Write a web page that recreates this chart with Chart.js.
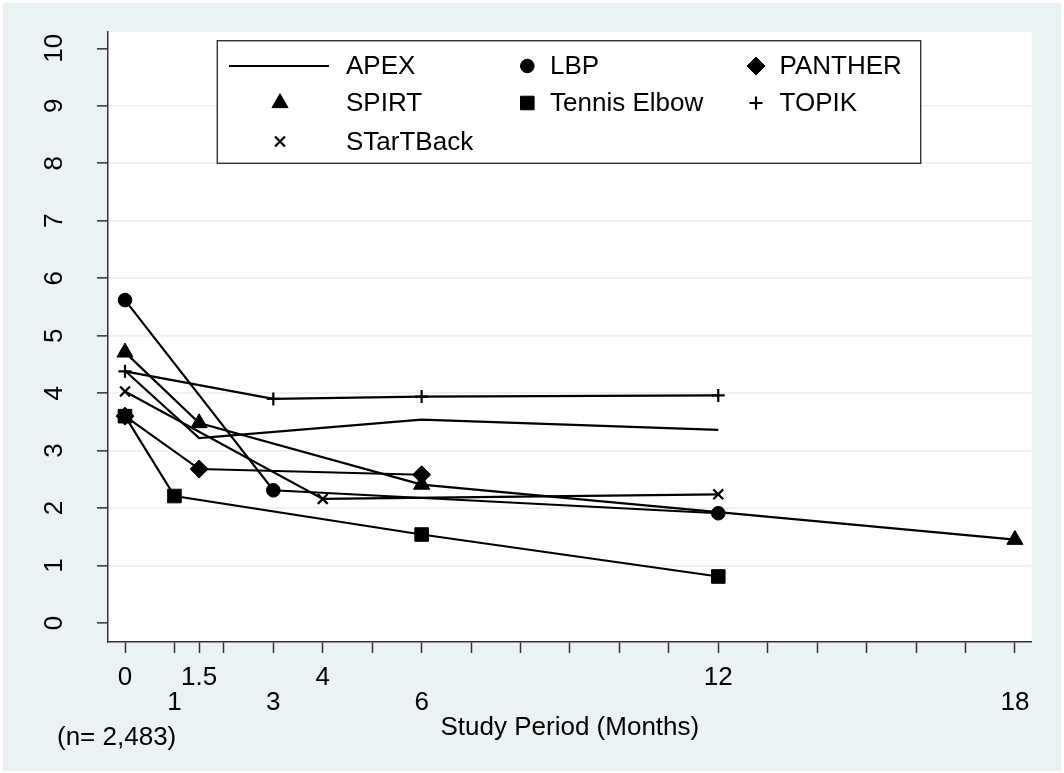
<!DOCTYPE html>
<html>
<head>
<meta charset="utf-8">
<script src="https://cdn.jsdelivr.net/npm/chart.js@4/dist/chart.umd.min.js"></script>
<style>
  html, body { margin: 0; padding: 0; background: #fff; }
  #wrap { position: absolute; left: 3px; top: 3px; width: 1058px; height: 768px; background: #eaf2f3; }
</style>
</head>
<body>
<div id="wrap"><canvas id="chart" width="1058" height="768"></canvas></div>
<script>
// study names, in legend order
const studies = ['APEX', 'LBP', 'PANTHER', 'SPIRT', 'Tennis Elbow', 'TOPIK', 'STarTBack'];

// follow-up months and mean scores per study
const apexMonths = [0, 1.5, 6, 12];
const apexScores = [4.39, 3.22, 3.54, 3.36];
const lbpMonths = [0, 3, 12];
const lbpScores = [5.62, 2.31, 1.91];
const pantherMonths = [0, 1.5, 6];
const pantherScores = [3.6, 2.68, 2.58];
const spirtMonths = [0, 1.5, 6, 18];
const spirtScores = [4.71, 3.48, 2.41, 1.45];
const tennisMonths = [0, 1, 6, 12];
const tennisScores = [3.6, 2.21, 1.54, 0.81];
const topikMonths = [0, 3, 6, 12];
const topikScores = [4.38, 3.9, 3.94, 3.96];
const startbackMonths = [0, 4, 12];
const startbackScores = [4.03, 2.16, 2.24];

// axis ticks
const xTicks = [0, 1, 1.5, 2, 3, 4, 5, 6, 7, 8, 9, 10, 11, 12, 13, 14, 15, 16, 17, 18];
const xTopRow = [0, 1.5, 4, 12];
const xBottomRow = [1, 3, 6, 18];
const yTicks = [0, 1, 2, 3, 4, 5, 6, 7, 8, 9, 10];

const FONT = 'Liberation Sans, Arial, Helvetica, sans-serif';
const INK = '#000';
const AXIS = '#333';
const GRID = '#eaf2f3';

function toPoints(months, scores) {
    return months.map((m, i) => ({ x: m, y: scores[i] }));
}

const series = [
    { months: apexMonths, scores: apexScores, style: false, radius: 0 },
    { months: lbpMonths, scores: lbpScores, style: 'circle', radius: 6.8 },
    { months: pantherMonths, scores: pantherScores, style: 'rectRot', radius: 9 },
    { months: spirtMonths, scores: spirtScores, style: 'triangle', radius: 9.3 },
    { months: tennisMonths, scores: tennisScores, style: 'rect', radius: 9.6 },
    { months: topikMonths, scores: topikScores, style: 'cross', radius: 6.5 },
    { months: startbackMonths, scores: startbackScores, style: 'crossRot', radius: 7 }
];

const datasets = series.map((s, i) => ({
    label: studies[i],
    data: toPoints(s.months, s.scores),
    borderColor: INK,
    backgroundColor: INK,
    borderWidth: 2.2,
    tension: 0,
    pointStyle: s.style || 'circle',
    pointRadius: s.radius,
    pointHoverRadius: s.radius,
    pointBackgroundColor: INK,
    pointBorderColor: INK,
    pointBorderWidth: (s.style === 'cross' || s.style === 'crossRot') ? 2.2 : 1
}));

// white plot region behind the grid
const plotBackground = {
    id: 'plotBackground',
    beforeDraw(chart) {
        const { ctx, chartArea: a } = chart;
        ctx.save();
        ctx.fillStyle = '#fff';
        ctx.fillRect(a.left, a.top, a.right - a.left, a.bottom - a.top);
        ctx.restore();
    }
};

// boxed legend inside the plot, plus the sample size note
const legendBox = {
    id: 'legendBox',
    afterDraw(chart) {
        const ctx = chart.ctx;
        const box = { left: 214.3, top: 37.7, right: 917.7, bottom: 160.3 };
        const colSymbolX = [277, 524.3, 753];
        const colTextX = [343, 547, 776.5];
        const rowY = [63, 100, 138.5];

        ctx.save();
        ctx.fillStyle = '#fff';
        ctx.fillRect(box.left, box.top, box.right - box.left, box.bottom - box.top);
        ctx.strokeStyle = AXIS;
        ctx.lineWidth = 1.4;
        ctx.strokeRect(box.left, box.top, box.right - box.left, box.bottom - box.top);

        ctx.font = '26px ' + FONT;
        ctx.textBaseline = 'middle';
        ctx.textAlign = 'left';

        chart.data.datasets.forEach((ds, i) => {
            const col = i % 3;
            const row = Math.floor(i / 3);
            const x = colSymbolX[col];
            const y = rowY[row];
            ctx.fillStyle = INK;
            ctx.strokeStyle = INK;
            if (!series[i].style) {
                ctx.lineWidth = 2.2;
                ctx.beginPath();
                ctx.moveTo(226, y);
                ctx.lineTo(326, y);
                ctx.stroke();
            } else {
                ctx.lineWidth = ds.pointBorderWidth;
                Chart.helpers.drawPoint(ctx, {
                    pointStyle: ds.pointStyle,
                    radius: ds.pointRadius,
                    borderWidth: ds.pointBorderWidth,
                    rotation: 0
                }, x, y);
            }
            ctx.fillStyle = INK;
            ctx.fillText(ds.label, colTextX[col], y + 1);
        });

        ctx.fillText('(n= 2,483)', 54, 735);
        ctx.restore();
    }
};

new Chart(document.getElementById('chart'), {
    type: 'line',
    data: { datasets: datasets },
    plugins: [plotBackground, legendBox],
    options: {
        responsive: false,
        animation: false,
        events: [],
        layout: { padding: { left: 0, top: 28.7, right: 29.3, bottom: 0 } },
        plugins: {
            legend: { display: false },
            tooltip: { enabled: false }
        },
        scales: {
            x: {
                type: 'linear',
                min: -0.344,
                max: 18.34,
                afterBuildTicks: s => { s.ticks = xTicks.map(v => ({ value: v })); },
                afterFit: s => { s.height = 129; s.paddingLeft = 0; s.paddingRight = 0; },
                border: { display: true, color: AXIS, width: 1.5 },
                grid: { drawOnChartArea: false, tickColor: AXIS, tickLength: 11, tickWidth: 1.5 },
                ticks: {
                    autoSkip: false,
                    minRotation: 0,
                    maxRotation: 0,
                    padding: 12,
                    color: INK,
                    font: { family: FONT, size: 26, lineHeight: '25px' },
                    callback: v => {
                        if (xTopRow.includes(v)) return String(v);
                        if (xBottomRow.includes(v)) return ['', String(v)];
                        return '';
                    }
                },
                title: {
                    display: true,
                    text: 'Study Period (Months)',
                    color: INK,
                    font: { family: FONT, size: 26, lineHeight: 1.2 },
                    padding: { top: 0, bottom: 28 }
                }
            },
            y: {
                type: 'linear',
                min: -0.33,
                max: 10.29,
                afterBuildTicks: s => { s.ticks = yTicks.map(v => ({ value: v })); },
                afterFit: s => { s.width = 105; s.paddingTop = 0; s.paddingBottom = 0; },
                border: { display: true, color: AXIS, width: 1.5 },
                grid: {
                    color: c => (c.tick && c.tick.value > 0 && c.tick.value < 10) ? GRID : 'rgba(0,0,0,0)',
                    lineWidth: 1.7,
                    tickColor: AXIS,
                    tickLength: 11,
                    tickWidth: 1.5
                },
                ticks: {
                    minRotation: 90,
                    maxRotation: 90,
                    crossAlign: 'center',
                    padding: 28,
                    color: INK,
                    font: { family: FONT, size: 26 }
                }
            }
        }
    }
});
</script>
</body>
</html>
